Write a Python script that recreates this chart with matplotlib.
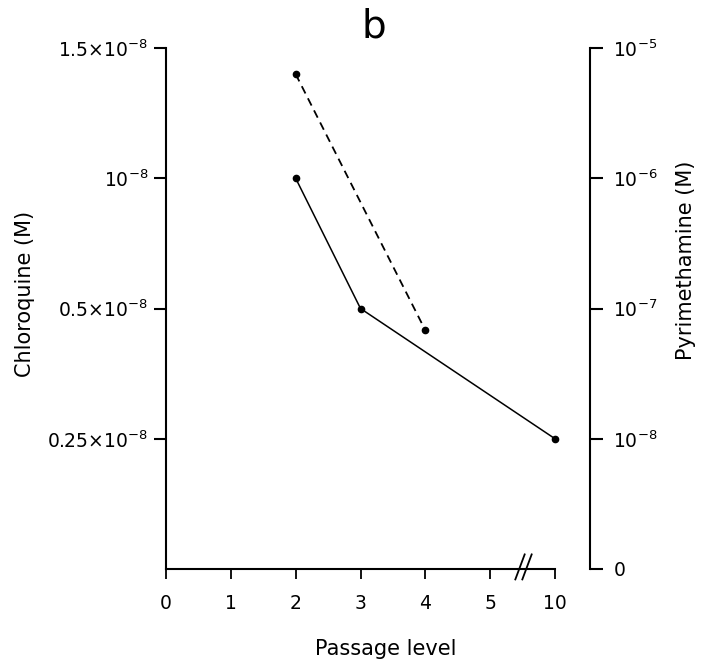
import numpy as np
import matplotlib
matplotlib.use("Agg")
import matplotlib.pyplot as plt

plt.rcParams['font.family'] = ['DejaVu Sans']
plt.rcParams['mathtext.fontset'] = 'dejavusans'

# ---- data ----
passage_ticks = [0, 1, 2, 3, 4, 5, 10]
chloro_passage = [2, 3, 10]
chloro_values = [1.0e-8, 0.5e-8, 0.25e-8]
pyri_passage = [2, 4]
pyri_values = [6.3e-6, 6.8e-8]

left_tick_values = [0.25e-8, 0.5e-8, 1.0e-8, 1.5e-8]
left_tick_labels = [r'$0.25{\times}10^{-8}$', r'$0.5{\times}10^{-8}$',
                    r'$10^{-8}$', r'$1.5{\times}10^{-8}$']
right_tick_values = [0, 1e-8, 1e-7, 1e-6, 1e-5]
right_tick_labels = ['0', r'$10^{-8}$', r'$10^{-7}$', r'$10^{-6}$', r'$10^{-5}$']

# ---- scales (broken x axis, custom y axes) ----
x_vals = [0, 1, 2, 3, 4, 5, 10]
x_pos = [0, 1, 2, 3, 4, 5, 6]
def x_fwd(v):
    return np.interp(v, x_vals, x_pos)
def x_inv(p):
    return np.interp(p, x_pos, x_vals)

l_vals = [0, 0.25e-8, 0.5e-8, 1.0e-8, 1.5e-8]
l_pos = [0, 1, 2, 3, 4]
def l_fwd(v):
    return np.interp(v, l_vals, l_pos)
def l_inv(p):
    return np.interp(p, l_pos, l_vals)

def r_fwd(v):
    v = np.asarray(v, dtype=float)
    safe = np.clip(v, 1e-30, None)
    return np.where(v >= 1e-8, np.log10(safe) + 9, v / 1e-8)
def r_inv(p):
    p = np.asarray(p, dtype=float)
    return np.where(p >= 1, 10.0 ** (p - 9), p * 1e-8)

W, H = 701, 668
fig = plt.figure(figsize=(W / 100, H / 100), dpi=100)
ax = fig.add_axes([166 / W, (H - 569) / H, (555 - 166) / W, (569 - 48) / H])
ax.set_xscale('function', functions=(x_fwd, x_inv))
ax.set_yscale('function', functions=(l_fwd, l_inv))
ax.set_xlim(0, 10)
ax.set_ylim(0, 1.5e-8)

ax2 = ax.twinx()
ax2.set_yscale('function', functions=(r_fwd, r_inv))
ax2.set_ylim(0, 1e-5)

lw_sp = 1.5
for a in (ax, ax2):
    for s in a.spines.values():
        s.set_linewidth(lw_sp)
ax.spines['top'].set_visible(False)
ax.spines['right'].set_visible(False)
ax2.spines['top'].set_visible(False)
ax2.spines['left'].set_visible(False)
ax2.spines['bottom'].set_visible(False)
ax2.spines['right'].set_position(('outward', 25))

ax.set_xticks(passage_ticks)
ax.set_xticklabels([str(v) for v in passage_ticks])
ax.set_yticks(left_tick_values)
ax.set_yticklabels(left_tick_labels)
ax.yaxis.set_minor_locator(matplotlib.ticker.NullLocator())
ax.xaxis.set_minor_locator(matplotlib.ticker.NullLocator())
ax2.set_yticks(right_tick_values)
ax2.set_yticklabels(right_tick_labels)
ax2.yaxis.set_minor_locator(matplotlib.ticker.NullLocator())

ax.tick_params(axis='x', direction='out', length=7, width=1.3, pad=11, labelsize=13.5)
ax.tick_params(axis='y', direction='out', length=9, width=1.5, pad=4, labelsize=13.5)
ax2.tick_params(axis='y', direction='out', length=9, width=1.5, pad=8, labelsize=13.5)

ax.plot(chloro_passage, chloro_values, color='black', lw=1.1,
        marker='o', ms=4.5, clip_on=False, zorder=5)
ax2.plot(pyri_passage, pyri_values, color='black', lw=1.3, ls=(0, (4.5, 3)),
         marker='o', ms=4.5, clip_on=False, zorder=5)

# axis break marks
bx = (527 - 166) / (555 - 166)
for dx in (-0.018, 0.0):
    ax.plot([bx + dx - 0.012, bx + dx + 0.012], [-0.02, 0.028], transform=ax.transAxes,
            color='black', lw=1.3, clip_on=False)

fig.text(25 / W, 1 - 294 / H, 'Chloroquine (M)', rotation=90, ha='center', va='center',
         fontsize=15)
fig.text(686 / W, 1 - 260 / H, 'Pyrimethamine (M)', rotation=90, ha='center', va='center',
         fontsize=15)
fig.text(386 / W, 1 - 649 / H, 'Passage level', ha='center', va='center', fontsize=15)
fig.text(374 / W, 1 - 26 / H, 'b', ha='center', va='center', fontsize=28)

fig.savefig('out.png', dpi=100)
